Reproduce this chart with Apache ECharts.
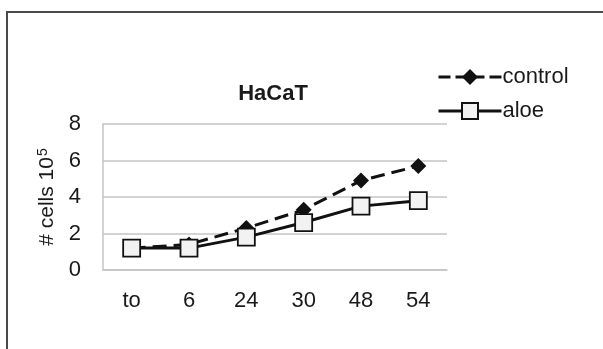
<!DOCTYPE html>
<html>
<head>
<meta charset="utf-8">
<script src="https://cdn.jsdelivr.net/npm/echarts@6/dist/echarts.min.js"></script>
<style>
  html, body { margin: 0; padding: 0; background: #fff; }
  #wrap { position: relative; width: 603px; height: 349px; }
  #frame { position: absolute; left: 6px; top: 11px; right: 0; bottom: 0;
           border-top: 2px solid #4a4a4a; border-left: 2px solid #4a4a4a; pointer-events: none; }
  #chart { position: absolute; left: 0; top: 0; width: 603px; height: 349px; }
</style>
</head>
<body>
<div id="wrap">
  <div id="chart"></div>
  <div id="frame"></div>
</div>
<script>
// time points (h) and cell counts (x10^5)
const hours = ["to", "6", "24", "30", "48", "54"];
const control = [1.2, 1.4, 2.3, 3.3, 4.9, 5.7];
const aloe = [1.2, 1.2, 1.8, 2.6, 3.5, 3.8];
const yTicks = { min: 0, max: 8, step: 2 };

const font = "'Liberation Sans', Arial, sans-serif";
const ink = "#1a1a1a";
const gridGray = "#c4c4c4";

const chart = echarts.init(document.getElementById("chart"), null, { renderer: "canvas" });

chart.setOption({
  backgroundColor: "transparent",
  animation: false,
  title: {
    text: "HaCaT",
    left: 268,
    top: 78,
    textAlign: "center",
    textStyle: { fontFamily: font, fontSize: 22, fontWeight: "bold", color: ink },
  },
  legend: {
    left: 432,
    top: 61,
    orient: "vertical",
    itemWidth: 63,
    itemHeight: 20,
    itemGap: 12,
    lineStyle: { width: 3 },
    textStyle: { fontFamily: font, fontSize: 22, color: ink, padding: [0, 0, 0, -4] },
    data: [
      { name: "control", lineStyle: { type: [12, 5] } },
      { name: "aloe" },
    ],
  },
  grid: { left: 103, right: 156, top: 124, bottom: 79, containLabel: false },
  xAxis: {
    type: "category",
    data: hours,
    boundaryGap: true,
    axisLine: { lineStyle: { color: gridGray, width: 1.5 } },
    axisTick: { show: false },
    axisLabel: { fontFamily: font, fontSize: 22, color: ink, margin: 20 },
  },
  yAxis: {
    type: "value",
    min: yTicks.min,
    max: yTicks.max,
    interval: yTicks.step,
    name: "{a|# cells 10}{s|5}",
    nameLocation: "middle",
    nameGap: 45,
    nameMoveOverlap: false,
    nameTextStyle: {
      rich: {
        a: { fontFamily: font, fontSize: 21, color: ink, lineHeight: 22 },
        s: { fontFamily: font, fontSize: 14, color: ink, verticalAlign: "top", lineHeight: 22, padding: [0, 0, 12, 1] },
      },
    },
    axisLine: { show: true, lineStyle: { color: gridGray, width: 1.5 } },
    axisTick: { show: false },
    splitLine: { lineStyle: { color: gridGray, width: 1.5 } },
    axisLabel: { fontFamily: font, fontSize: 22, color: ink, margin: 22 },
  },
  series: [
    {
      name: "control",
      type: "line",
      data: control,
      symbol: "diamond",
      symbolSize: 16,
      itemStyle: { color: "#111" },
      lineStyle: { color: "#111", width: 3, type: [14, 7] },
      z: 2,
    },
    {
      name: "aloe",
      type: "line",
      data: aloe,
      symbol: "rect",
      symbolSize: 17,
      showAllSymbol: true,
      itemStyle: { color: "#f2f2f2", borderColor: "#111", borderWidth: 1.8 },
      lineStyle: { color: "#111", width: 3 },
      z: 3,
    },
  ],
});
</script>
</body>
</html>
